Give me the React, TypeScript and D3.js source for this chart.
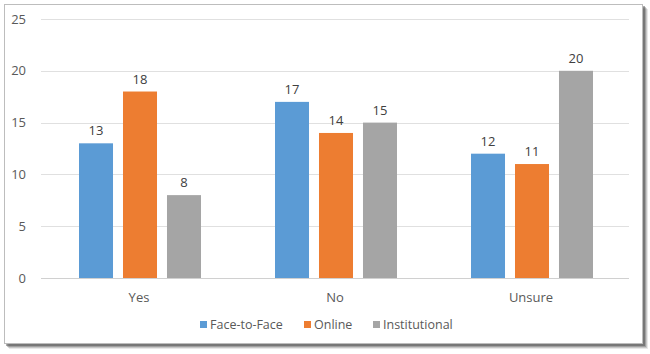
import React, { useRef, useEffect } from 'react';
import * as d3 from 'd3';

const categories = ['Yes', 'No', 'Unsure'];
const seriesNames = ['Face-to-Face', 'Online', 'Institutional'];
const faceToFace = [13, 17, 12];
const online = [18, 14, 11];
const institutional = [8, 15, 20];
const yTicks = [0, 5, 10, 15, 20, 25];
const colors = ['#5b9bd5', '#ed7d31', '#a5a5a5'];

function BarChart() {
  const svgRef = useRef<SVGSVGElement>(null);

  useEffect(() => {
    const svg = d3.select(svgRef.current);
    svg.selectAll('*').remove();

    const width = 650;
    const height = 354;
    const font = "'Open Sans', sans-serif";

    svg.attr('width', width).attr('height', height);

    // frame with a soft shadow on the right and bottom
    const shadow = [[5, 0.12], [4, 0.2], [3, 0.3], [2, 0.45]];
    shadow.forEach(([off, op]) => {
      svg.append('rect')
        .attr('x', 4 + off).attr('y', 4 + off)
        .attr('width', 639).attr('height', 340)
        .attr('fill', '#444')
        .attr('opacity', op);
    });
    svg.append('rect')
      .attr('x', 4.5).attr('y', 4.5)
      .attr('width', 638).attr('height', 339)
      .attr('fill', 'white')
      .attr('stroke', '#bdbdbd');

    const x0 = d3.scaleBand().domain(categories).range([41, 629]);
    const x1 = d3.scaleBand().domain(seriesNames).range([38, 160]).paddingInner(0.227);
    const y = d3.scaleLinear().domain([0, 25]).range([278, 19]);

    const g = svg.append('g');

    g.selectAll('line.grid')
      .data(yTicks)
      .enter()
      .append('line')
      .attr('x1', 41).attr('x2', 629)
      .attr('y1', d => Math.round(y(d)) + 0.5)
      .attr('y2', d => Math.round(y(d)) + 0.5)
      .attr('stroke', d => d === 0 ? '#d0d0d0' : '#e0e0e0')
      .attr('stroke-width', 1);

    g.selectAll('text.ytick')
      .data(yTicks)
      .enter()
      .append('text')
      .attr('x', 26)
      .attr('y', d => y(d))
      .attr('dy', '0.35em')
      .attr('text-anchor', 'end')
      .attr('fill', '#595959')
      .style('font-family', font)
      .style('font-size', '13px')
      .text(d => d);

    g.selectAll('text.xtick')
      .data(categories)
      .enter()
      .append('text')
      .attr('x', d => (x0(d) as number) + x0.bandwidth() / 2)
      .attr('y', 302)
      .attr('text-anchor', 'middle')
      .attr('fill', '#595959')
      .style('font-family', font)
      .style('font-size', '13px')
      .text(d => d);

    const seriesValues = [faceToFace, online, institutional];
    const rows = categories.flatMap((c, ci) =>
      seriesNames.map((s, si) => ({ cat: c, series: s, si, value: seriesValues[si][ci] }))
    );

    g.selectAll('rect.bar')
      .data(rows)
      .enter()
      .append('rect')
      .attr('x', d => (x0(d.cat) as number) + (x1(d.series) as number))
      .attr('y', d => y(d.value))
      .attr('width', x1.bandwidth())
      .attr('height', d => y(0) - y(d.value))
      .attr('fill', d => colors[d.si]);

    g.selectAll('text.label')
      .data(rows)
      .enter()
      .append('text')
      .attr('x', d => (x0(d.cat) as number) + (x1(d.series) as number) + x1.bandwidth() / 2)
      .attr('y', d => y(d.value) - 8)
      .attr('text-anchor', 'middle')
      .attr('fill', '#404040')
      .style('font-family', font)
      .style('font-size', '13px')
      .text(d => d.value);

    const legendX = [200, 304, 373];
    const legend = g.selectAll('g.legend')
      .data(seriesNames)
      .enter()
      .append('g')
      .attr('transform', (d, i) => `translate(${legendX[i]}, 321)`);
    legend.append('rect')
      .attr('width', 7).attr('height', 7)
      .attr('fill', (d, i) => colors[i]);
    legend.append('text')
      .attr('x', 10).attr('y', 4)
      .attr('dy', '0.35em')
      .attr('fill', '#595959')
      .style('font-family', font)
      .style('font-size', '12.5px')
      .text(d => d);
  }, []);

  return (
    <svg ref={svgRef} style={{ position: 'absolute', left: 0, top: 0, display: 'block' }}></svg>
  );
}

export default function App() {
  return <BarChart />;
}
